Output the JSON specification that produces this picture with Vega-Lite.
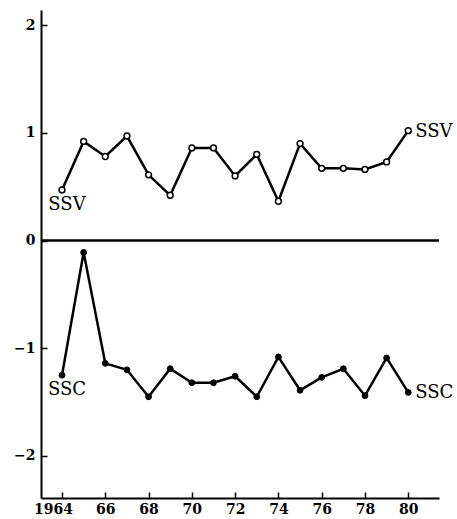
{
  "$schema": "https://vega.github.io/schema/vega-lite/v6.json",
  "width": 398,
  "height": 488,
  "autosize": "none",
  "padding": {"left": 41, "top": 10, "right": 18, "bottom": 21},
  "background": "white",
  "config": {
    "view": {"stroke": null},
    "axis": {
      "grid": false,
      "domainColor": "black",
      "domainWidth": 2,
      "tickColor": "black",
      "tickWidth": 1.5,
      "labelColor": "black",
      "labelFont": "DejaVu Serif",
      "labelFontWeight": "bold",
      "labelFontSize": 14,
      "title": null
    }
  },
  "data": {
    "values": [
      {"year": 1964, "value": 0.47, "series": "SSV"},
      {"year": 1965, "value": 0.92, "series": "SSV"},
      {"year": 1966, "value": 0.78, "series": "SSV"},
      {"year": 1967, "value": 0.97, "series": "SSV"},
      {"year": 1968, "value": 0.61, "series": "SSV"},
      {"year": 1969, "value": 0.42, "series": "SSV"},
      {"year": 1970, "value": 0.86, "series": "SSV"},
      {"year": 1971, "value": 0.86, "series": "SSV"},
      {"year": 1972, "value": 0.60, "series": "SSV"},
      {"year": 1973, "value": 0.80, "series": "SSV"},
      {"year": 1974, "value": 0.365, "series": "SSV"},
      {"year": 1975, "value": 0.90, "series": "SSV"},
      {"year": 1976, "value": 0.67, "series": "SSV"},
      {"year": 1977, "value": 0.67, "series": "SSV"},
      {"year": 1978, "value": 0.66, "series": "SSV"},
      {"year": 1979, "value": 0.73, "series": "SSV"},
      {"year": 1980, "value": 1.02, "series": "SSV"},
      {"year": 1964, "value": -1.25, "series": "SSC"},
      {"year": 1965, "value": -0.11, "series": "SSC"},
      {"year": 1966, "value": -1.14, "series": "SSC"},
      {"year": 1967, "value": -1.20, "series": "SSC"},
      {"year": 1968, "value": -1.45, "series": "SSC"},
      {"year": 1969, "value": -1.19, "series": "SSC"},
      {"year": 1970, "value": -1.32, "series": "SSC"},
      {"year": 1971, "value": -1.32, "series": "SSC"},
      {"year": 1972, "value": -1.26, "series": "SSC"},
      {"year": 1973, "value": -1.45, "series": "SSC"},
      {"year": 1974, "value": -1.08, "series": "SSC"},
      {"year": 1975, "value": -1.39, "series": "SSC"},
      {"year": 1976, "value": -1.27, "series": "SSC"},
      {"year": 1977, "value": -1.19, "series": "SSC"},
      {"year": 1978, "value": -1.44, "series": "SSC"},
      {"year": 1979, "value": -1.09, "series": "SSC"},
      {"year": 1980, "value": -1.41, "series": "SSC"}
    ]
  },
  "layer": [
    {
      "data": {"values": [{"zero": 0}]},
      "mark": {"type": "rule", "color": "black", "strokeWidth": 2.5},
      "encoding": {
        "y": {
          "field": "zero", "type": "quantitative",
          "scale": {"domain": [-2.39, 2.14], "nice": false, "zero": false},
          "axis": {
            "values": [-2, -1, 0, 1, 2],
            "format": "d",
            "tickSize": -6,
            "labelPadding": 12,
            "labelFlush": false
          }
        }
      }
    },
    {
      "mark": {"type": "line", "color": "black", "strokeWidth": 2.5},
      "encoding": {
        "x": {
          "field": "year", "type": "quantitative",
          "scale": {"domain": [1963.03, 1981.42], "nice": false, "zero": false},
          "axis": {
            "values": [1964, 1965, 1966, 1967, 1968, 1969, 1970, 1971, 1972, 1973, 1974, 1975, 1976, 1977, 1978, 1979, 1980],
            "labelExpr": "datum.value % 2 == 0 ? (datum.value == 1964 ? '1964' : substring(toString(datum.value), 2, 4)) : ''",
            "tickSize": -6,
            "labelPadding": 10,
            "labelOffset": {"condition": {"test": "datum.value == 1964", "value": -9}, "value": 0},
            "labelFlush": false,
            "labelOverlap": false
          }
        },
        "y": {"field": "value", "type": "quantitative"},
        "detail": {"field": "series"}
      }
    },
    {
      "transform": [{"filter": "datum.series == 'SSV'"}],
      "mark": {"type": "point", "shape": "circle", "filled": true, "fill": "white", "stroke": "black", "strokeWidth": 1.5, "size": 34, "opacity": 1},
      "encoding": {
        "x": {"field": "year", "type": "quantitative"},
        "y": {"field": "value", "type": "quantitative"}
      }
    },
    {
      "transform": [{"filter": "datum.series == 'SSC'"}],
      "mark": {"type": "point", "shape": "circle", "filled": true, "fill": "black", "stroke": "black", "strokeWidth": 1, "size": 34, "opacity": 1},
      "encoding": {
        "x": {"field": "year", "type": "quantitative"},
        "y": {"field": "value", "type": "quantitative"}
      }
    },
    {
      "transform": [{"filter": "datum.year == 1964"}],
      "mark": {"type": "text", "font": "DejaVu Serif", "fontSize": 18, "color": "black", "align": "center", "baseline": "middle", "dx": 5, "dy": 15},
      "encoding": {
        "x": {"field": "year", "type": "quantitative"},
        "y": {"field": "value", "type": "quantitative"},
        "text": {"field": "series"}
      }
    },
    {
      "transform": [{"filter": "datum.year == 1980"}],
      "mark": {"type": "text", "font": "DejaVu Serif", "fontSize": 18, "color": "black", "align": "left", "baseline": "middle", "dx": 7, "dy": 1},
      "encoding": {
        "x": {"field": "year", "type": "quantitative"},
        "y": {"field": "value", "type": "quantitative"},
        "text": {"field": "series"}
      }
    }
  ]
}
